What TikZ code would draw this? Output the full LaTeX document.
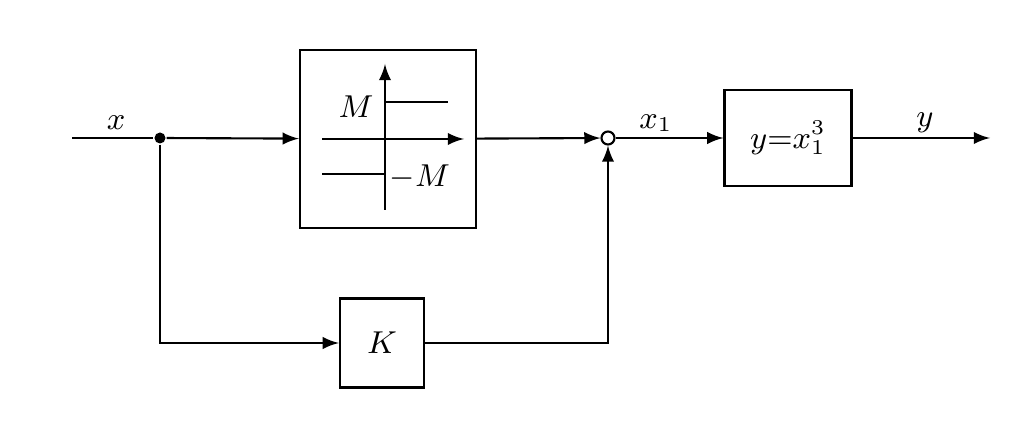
\documentclass[tikz,border=0pt]{standalone}
\usepackage{amsmath}
\usetikzlibrary{positioning}

\begin{document}
\begin{tikzpicture}[x=0.01cm,y=-0.01cm,semithick,>=latex,
    blk/.style={draw,rectangle,inner sep=0pt,font=\small},
    lbl/.style={font=\small}]
      \useasboundingbox (0,0) rectangle (1020,440);

      % blocks
      \node[blk,minimum width=1.76cm,minimum height=1.78cm] (relay) at (388,139) {};
      \node[blk,minimum width=1.27cm,minimum height=0.96cm] (cube) at (788,138) {$y{=}x_1^3$};
      \node[blk,minimum width=0.84cm,minimum height=0.89cm] (gain) at (382,343) {$K$};
      \node[draw,circle,inner sep=0pt,minimum size=0.13cm] (sum) at (608,138) {};
      \node[fill,circle,inner sep=0pt,minimum size=0.11cm] (split) at (160,138) {};
      \coordinate (in) at (72,138);
      \coordinate (out) at (990,138);

      % relay characteristic
      \draw[->] (385,210) -- (385,64);
      \draw[->] (322,139) -- (464,139);
      \draw (386,102) -- (448,102);
      \draw (322,174) -- (385,174);
      \node[lbl] at (356,107) {$M$};
      \node[lbl] at (420,177) {$-M$};

      % signal paths
      \draw (in) -- (split);
      \draw[->] (split) -- (relay);
      \draw[->] (relay) -- (sum);
      \draw[->] (sum) -- (cube);
      \draw[->] (cube) -- (out);
      \draw[->] (split) |- (gain);
      \draw[->] (gain) -| (sum);

      % labels
      \node[lbl] at (116,123) {$x$};
      \node[lbl] at (656,123) {$x_1$};
      \node[lbl] at (925,123) {$y$};
\end{tikzpicture}
\end{document}
